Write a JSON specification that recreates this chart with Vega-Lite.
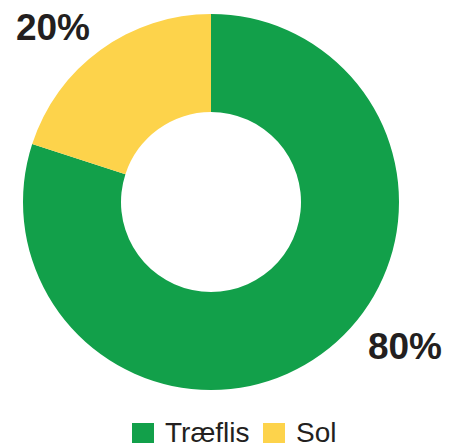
{
  "$schema": "https://vega.github.io/schema/vega-lite/v6.json",
  "width": 422,
  "height": 404,
  "padding": 0,
  "background": "white",
  "data": {"values": [
    {"kilde": "Træflis", "andel": 0.8},
    {"kilde": "Sol", "andel": 0.2}
  ]},
  "layer": [
    {
      "mark": {"type": "arc", "outerRadius": 188, "innerRadius": 90},
      "encoding": {
        "theta": {"field": "andel", "type": "quantitative", "stack": true, "scale": {"domain": [0, 1]}},
        "order": {"field": "andel", "type": "quantitative", "sort": "descending"},
        "color": {
          "field": "kilde", "type": "nominal",
          "scale": {"domain": ["Træflis", "Sol"], "range": ["#12a04a", "#fdd34b"]},
          "legend": {
            "title": null, "orient": "none", "direction": "horizontal",
            "legendX": 129, "legendY": 420, "padding": 0,
            "symbolType": "square", "symbolSize": 484, "symbolStrokeWidth": 0, "symbolOpacity": 1,
            "labelFont": "Liberation Sans", "labelFontSize": 28, "labelColor": "#231f20",
            "labelOffset": 8, "columnPadding": 10
          }
        }
      }
    },
    {
      "transform": [{"filter": "datum.kilde === 'Sol'"}],
      "mark": {"type": "text", "font": "Liberation Sans", "fontWeight": "bold", "fontSize": 37, "color": "#231f20", "align": "center", "baseline": "middle", "dx": -158, "dy": -173},
      "encoding": {"text": {"field": "andel", "type": "quantitative", "format": ".0%"}}
    },
    {
      "transform": [{"filter": "datum.kilde === 'Træflis'"}],
      "mark": {"type": "text", "font": "Liberation Sans", "fontWeight": "bold", "fontSize": 37, "color": "#231f20", "align": "center", "baseline": "middle", "dx": 194, "dy": 146},
      "encoding": {"text": {"field": "andel", "type": "quantitative", "format": ".0%"}}
    }
  ],
  "config": {"view": {"stroke": null}}
}
